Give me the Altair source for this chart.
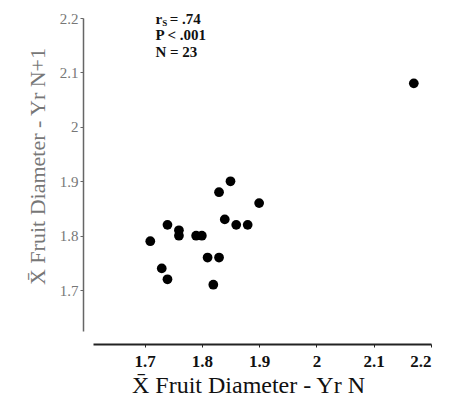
import altair as alt
import pandas as pd

# data
x_vals = [1.71, 1.74, 1.76, 1.76, 1.79, 1.80, 1.73, 1.74, 1.81, 1.83, 1.82,
          1.84, 1.86, 1.88, 1.90, 1.83, 1.85, 2.17]
y_vals = [1.79, 1.82, 1.81, 1.80, 1.80, 1.80, 1.74, 1.72, 1.76, 1.76, 1.71,
          1.83, 1.82, 1.82, 1.86, 1.88, 1.90, 2.08]
tick_values = [1.7, 1.8, 1.9, 2.0, 2.1, 2.2]

ann_text = ["r", "= .74", "P < .001", "N = 23"]
ann_x = [1.719, 1.744, 1.719, 1.719]
ann_y = [2.199, 2.199, 2.168, 2.138]
sub_text = ["S"]
sub_x = [1.731]
sub_y = [2.1915]

df = pd.DataFrame({"x": x_vals, "y": y_vals})
ann = pd.DataFrame({"t": ann_text, "x": ann_x, "y": ann_y})
sub = pd.DataFrame({"t": sub_text, "x": sub_x, "y": sub_y})

FONT = "Liberation Serif"

xs = alt.Scale(domain=[1.61, 2.2], nice=False, zero=False)
ys = alt.Scale(domain=[1.625, 2.2], nice=False, zero=False)

points = alt.Chart(df).mark_circle(size=95, color="black", opacity=1).encode(
    x=alt.X("x:Q", scale=xs,
            axis=alt.Axis(title="X\u0304 Fruit Diameter - Yr N", values=tick_values,
                          format="~g", grid=False, offset=13, tickSize=3,
                          labelFontSize=17, labelFontWeight="bold", labelColor="#111",
                          titleFontSize=24, titleFontWeight="normal", titleColor="#111",
                          labelPadding=6, titlePadding=4, titleX=155,
                          domainColor="#222", domainWidth=2, tickColor="#222",
                          labelFont=FONT, titleFont=FONT)),
    y=alt.Y("y:Q", scale=ys,
            axis=alt.Axis(title="X\u0304 Fruit Diameter - Yr N+1", values=tick_values,
                          format="~g", grid=False, offset=10, tickSize=3,
                          labelFontSize=15, labelColor="#777",
                          titleFontSize=22, titleFontWeight="normal", titleColor="#777",
                          labelPadding=2, titlePadding=10, titleY=148,
                          domainColor="#666", domainWidth=1.5, tickColor="#666",
                          labelFont=FONT, titleFont=FONT)),
)

text = alt.Chart(ann).mark_text(font=FONT, fontSize=15, fontWeight="bold",
                                align="left", baseline="middle", color="#111").encode(
    x=alt.X("x:Q", scale=xs), y=alt.Y("y:Q", scale=ys), text="t:N")

subt = alt.Chart(sub).mark_text(font=FONT, fontSize=9, fontWeight="bold",
                                align="left", baseline="middle", color="#111").encode(
    x=alt.X("x:Q", scale=xs), y=alt.Y("y:Q", scale=ys), text="t:N")

chart = alt.layer(points, text, subt).properties(
    width=338, height=313,
    autosize=alt.AutoSizeParams(type="none"),
    padding={"left": 85, "top": 10, "right": 10, "bottom": 66},
    background="white",
).configure(font=FONT).configure_view(strokeWidth=0)

chart.save("out.html", embed_options={"renderer": "svg", "actions": False})
